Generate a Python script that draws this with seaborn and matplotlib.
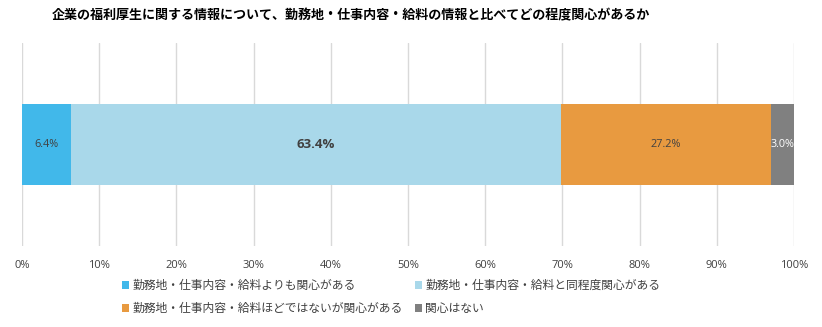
import matplotlib
matplotlib.use("Agg")
import matplotlib.pyplot as plt
import seaborn as sns
import pandas as pd
import numpy as np
from matplotlib.patches import Patch

title = "企業の福利厚生に関する情報について、勤務地・仕事内容・給料の情報と比べてどの程度関心があるか"
categories = [
    "勤務地・仕事内容・給料よりも関心がある",
    "勤務地・仕事内容・給料と同程度関心がある",
    "勤務地・仕事内容・給料ほどではないが関心がある",
    "関心はない",
]
values = [6.4, 63.4, 27.2, 3.0]
colors = ["#41B8EA", "#A9D8EA", "#E89A40", "#808080"]
label_colors = ["#404040", "#404040", "#404040", "#FFFFFF"]
tick_values = [0, 10, 20, 30, 40, 50, 60, 70, 80, 90, 100]
tick_labels = [f"{t}%" for t in tick_values]

sns.set_theme(style="white")
plt.rcParams["font.family"] = ["Noto Sans CJK JP", "DejaVu Sans"]

fig = plt.figure(figsize=(8.22, 3.27), dpi=100)
ax = fig.add_axes([22 / 822, 1 - 246 / 327, (794 - 22) / 822, (246 - 43) / 327])

df = pd.DataFrame({"cat": categories, "value": values})
df["cum"] = df["value"].cumsum()
df["row"] = ""

# stacked bar: draw cumulative totals from the widest down
for i in reversed(range(len(df))):
    sns.barplot(data=df.iloc[[i]], x="cum", y="row", orient="h",
                color=colors[i], width=0.8, ax=ax, saturation=1,
                edgecolor="none", linewidth=0)

for i, r in df.iterrows():
    cx = r["cum"] - r["value"] / 2
    bold = i == 1
    ax.text(cx, 0, f"{r['value']:.1f}%", ha="center", va="center",
            color=label_colors[i], fontsize=9.5 if bold else 7.8,
            fontweight="bold" if bold else "normal",
            family=["Open Sans", "DejaVu Sans"])

ax.set_xlim(0, 100)
ax.set_ylim(1, -1)
ax.set_xticks(tick_values)
ax.set_xticklabels(tick_labels, fontsize=8, color="#404040",
                   family=["Open Sans", "DejaVu Sans"])
ax.tick_params(axis="x", length=0, pad=10)
ax.set_yticks([])
ax.set_xlabel("")
ax.set_ylabel("")
ax.grid(axis="x", color="#D9D9D9", linewidth=1)
ax.set_axisbelow(True)
for s in ax.spines.values():
    s.set_visible(False)

fig.text(52 / 822, 1 - 15 / 327, title, fontsize=9.4, fontweight="bold",
         ha="left", va="center", color="#000000")

handles = [Patch(facecolor=c, edgecolor="none") for c in colors]
order = [0, 2, 1, 3]
leg = fig.legend([handles[i] for i in order], [categories[i] for i in order],
                 ncol=2, loc="upper left", bbox_to_anchor=(122 / 822, 1 - 279 / 327),
                 frameon=False, fontsize=8.5, handlelength=0.6, handleheight=0.6,
                 handletextpad=0.3, columnspacing=1.0, labelspacing=0.85,
                 borderaxespad=0, borderpad=0)
for t in leg.get_texts():
    t.set_color("#404040")

fig.savefig("out.png", dpi=100)
